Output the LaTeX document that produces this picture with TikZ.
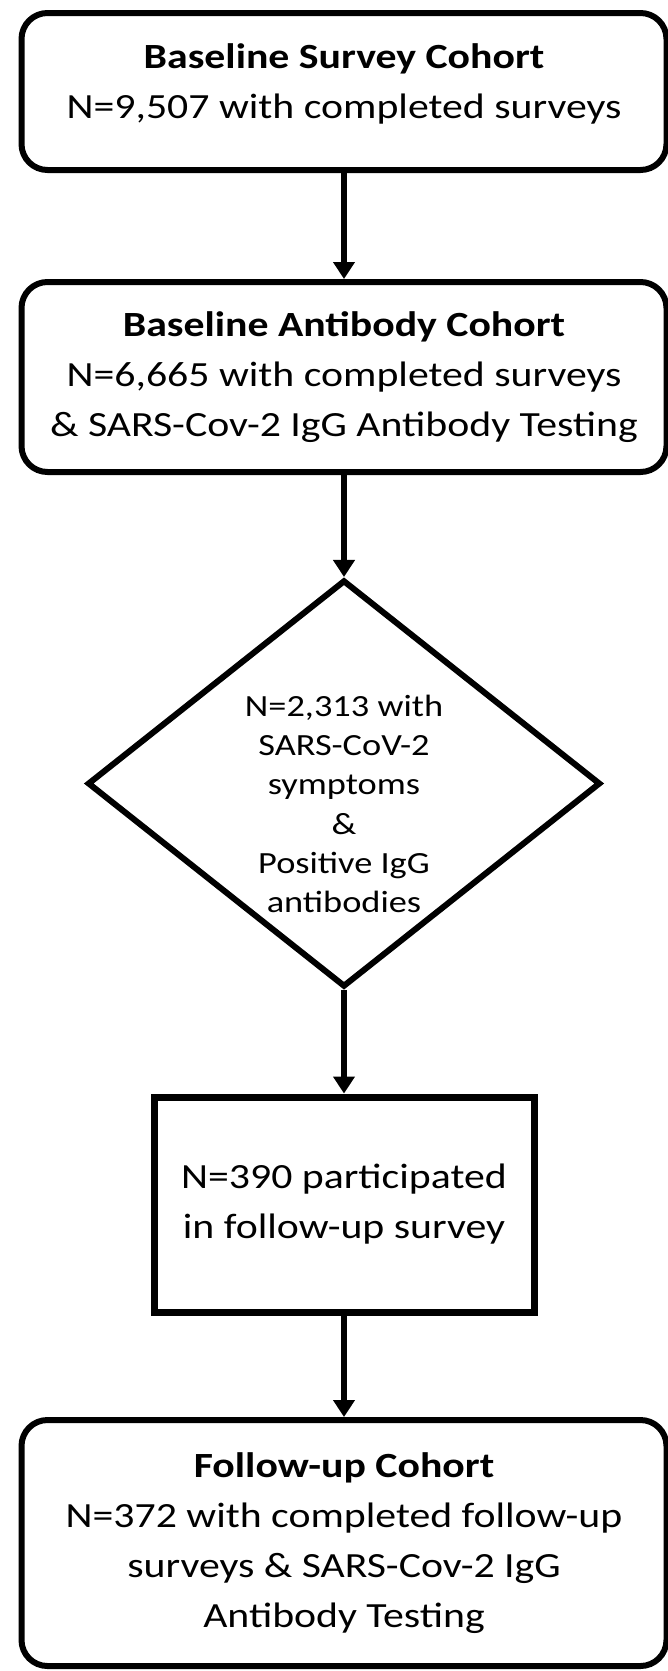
\documentclass[tikz,border=0pt]{standalone}
\usepackage{fontspec}
\setmainfont{Carlito}[FakeStretch=1.18]
\usetikzlibrary{shapes.geometric,arrows.meta}

\begin{document}
\begin{tikzpicture}[x=0.5pt,y=-0.5pt,
  cohort/.style={draw,line width=3pt,rounded corners=13pt,minimum width=322.5pt,inner sep=0pt},
  flow/.style={line width=3pt,-{Triangle[length=8.5pt,width=10.5pt]}},
  bigtext/.style={align=center,font=\fontsize{17.7pt}{25pt}\selectfont},
  smalltext/.style={align=center,font=\fontsize{15.4pt}{19.6pt}\selectfont,inner sep=0pt}]
\useasboundingbox (0,0) rectangle (668,1671);
% cohorts, top to bottom
\node[cohort,minimum height=78.5pt] (base) at (344,91.5) {};
\node[bigtext,inner sep=0pt] (basetext) at (344,84) {\textbf{Baseline Survey Cohort}\\N=9,507 with completed surveys};
\node[cohort,bigtext,minimum height=95pt] (antibody) at (344,377) {\textbf{Baseline Antibody Cohort}\\N=6,665 with completed surveys\\\& SARS-Cov-2 IgG Antibody Testing};
\node[diamond,draw,line width=3pt,inner sep=0pt,minimum width=256.5pt,minimum height=203.5pt] (symptoms) at (344,783.5) {};
\node[smalltext] (symptomstext) at (344,804) {N=2,313 with\\SARS-CoV-2\\symptoms\\\&\\Positive IgG\\antibodies};
\node[draw,line width=3.5pt,minimum width=190pt,minimum height=107.5pt,bigtext] (followup) at (344,1204.5) {N=390 participated\\in follow-up survey};
\node[cohort,bigtext,minimum height=123pt] (fucohort) at (344,1543) {\textbf{Follow-up Cohort}\\N=372 with completed follow-up\\surveys \& SARS-Cov-2 IgG\\Antibody Testing};
% arrows
\draw[flow] (base) -- (antibody);
\draw[flow] (antibody) -- (symptoms);
\draw[flow] (symptoms) -- (followup);
\draw[flow] (followup) -- (fucohort);
\end{tikzpicture}
\end{document}
